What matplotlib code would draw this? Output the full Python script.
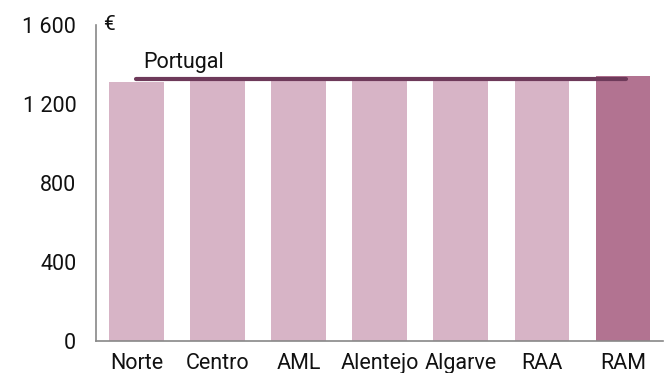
import matplotlib
matplotlib.use("Agg")
import matplotlib.pyplot as plt

plt.rcParams['font.family'] = ['Roboto', 'DejaVu Sans']

regions = ["Norte", "Centro", "AML", "Alentejo", "Algarve", "RAA", "RAM"]
values = [1311, 1315, 1315, 1315, 1315, 1315, 1342]
portugal = 1323
yticks = [0, 400, 800, 1200, 1600]
ytick_labels = ["0", "400", "800", "1 200", "1 600"]

light = "#d7b4c6"
dark = "#b27391"
line_c = "#6e3a5a"
txt = "#111111"

fig = plt.figure(figsize=(6.7, 3.73), dpi=100)
ax = fig.add_axes([0.143, 0.087, 0.847, 0.847])
colors = [light] * (len(regions) - 1) + [dark]
x = list(range(len(regions)))
ax.bar(x, values, width=0.67, color=colors, zorder=1)
ax.plot([x[0], x[-1] + 0.04], [portugal, portugal], color=line_c, lw=3.0, solid_capstyle='round', zorder=2)
ax.text(0.08, portugal + 30, "Portugal", fontsize=15.5, color=txt, ha="left", va="bottom")

ax.set_xlim(-0.5, len(regions) - 0.5)
ax.set_ylim(0, 1600)
ax.set_yticks(yticks)
ax.set_yticklabels(ytick_labels)
ax.set_xticks(x)
ax.set_xticklabels(regions)
ax.tick_params(axis='both', length=0, labelsize=15.5, colors=txt)
ax.tick_params(axis='y', pad=14)
ax.tick_params(axis='x', pad=9)
for s in ["top", "right"]:
    ax.spines[s].set_visible(False)
for s in ["left", "bottom"]:
    ax.spines[s].set_color("#888888")
    ax.spines[s].set_linewidth(1.2)
ax.text(0.012, 1.0, "€", transform=ax.transAxes, fontsize=15, color=txt, ha="left", va="center")

fig.savefig("out.png", dpi=100)
